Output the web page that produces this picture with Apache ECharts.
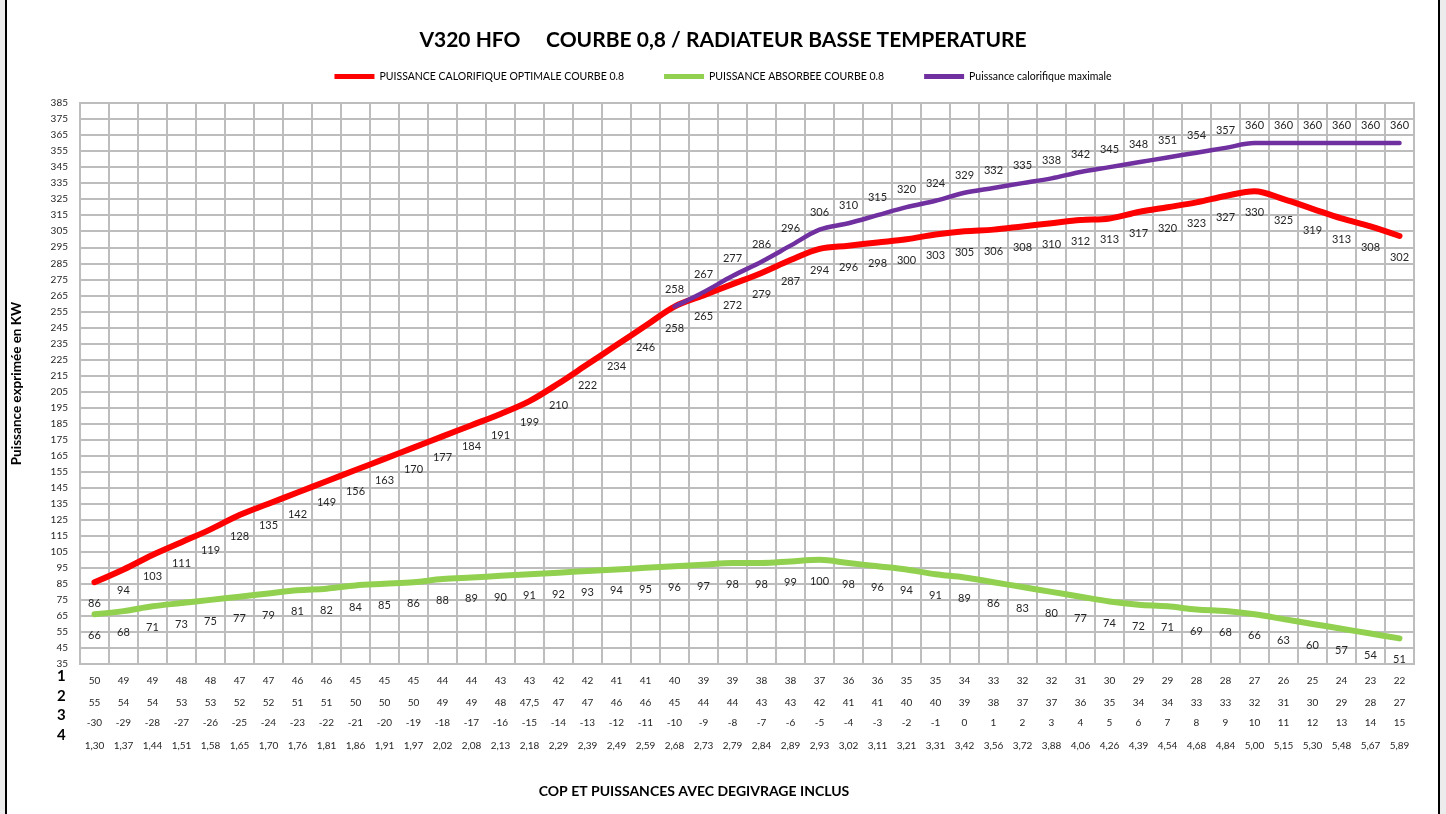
<!DOCTYPE html>
<html><head><meta charset="utf-8">
<script src="https://cdn.jsdelivr.net/npm/echarts@6/dist/echarts.min.js"></script>
<style>html,body{margin:0;padding:0;background:#fff}#c{width:1446px;height:814px}</style>
</head><body><div id="c"></div>
<script>
// ---- data ----
const temps = [-30,-29,-28,-27,-26,-25,-24,-23,-22,-21,-20,-19,-18,-17,-16,-15,-14,-13,-12,-11,-10,-9,-8,-7,-6,-5,-4,-3,-2,-1,0,1,2,3,4,5,6,7,8,9,10,11,12,13,14,15];
const row1 = [50,49,49,48,48,47,47,46,46,45,45,45,44,44,43,43,42,42,41,41,40,39,39,38,38,37,36,36,35,35,34,33,32,32,31,30,29,29,28,28,27,26,25,24,23,22];
const row2 = [55,54,54,53,53,52,52,51,51,50,50,50,49,49,48,47.5,47,47,46,46,45,44,44,43,43,42,41,41,40,40,39,38,37,37,36,35,34,34,33,33,32,31,30,29,28,27];
const cop = [1.30,1.37,1.44,1.51,1.58,1.65,1.70,1.76,1.81,1.86,1.91,1.97,2.02,2.08,2.13,2.18,2.29,2.39,2.49,2.59,2.68,2.73,2.79,2.84,2.89,2.93,3.02,3.11,3.21,3.31,3.42,3.56,3.72,3.88,4.06,4.26,4.39,4.54,4.68,4.84,5.00,5.15,5.30,5.48,5.67,5.89];
const optimal = [86,94,103,111,119,128,135,142,149,156,163,170,177,184,191,199,210,222,234,246,258,265,272,279,287,294,296,298,300,303,305,306,308,310,312,313,317,320,323,327,330,325,319,313,308,302];
const absorbed = [66,68,71,73,75,77,79,81,82,84,85,86,88,89,90,91,92,93,94,95,96,97,98,98,99,100,98,96,94,91,89,86,83,80,77,74,72,71,69,68,66,63,60,57,54,51];
const maximal = [null,null,null,null,null,null,null,null,null,null,null,null,null,null,null,null,null,null,null,null,258,267,277,286,296,306,310,315,320,324,329,332,335,338,342,345,348,351,354,357,360,360,360,360,360,360];
const rowNames = ['1','2','3','4'];
const seriesNames = ['PUISSANCE CALORIFIQUE OPTIMALE COURBE 0.8','PUISSANCE ABSORBEE COURBE 0.8','Puissance calorifique maximale'];

// ---- chart ----
const FONT = 'Lato, "Noto Sans", sans-serif';
const GRID = '#bdbdbd';
const comma = v => String(v).replace('.', ',');
const cats = temps.map(String);

function rowAxis(values, offset, fmt) {
  return {
    type: 'category', data: cats, position: 'bottom', offset: offset, gridIndex: 0,
    axisLine: {show: false}, axisTick: {show: false}, splitLine: {show: false},
    axisLabel: {interval: 0, margin: 12, fontSize: 10, color: '#262626', fontFamily: FONT,
      formatter: (v, i) => fmt(values[i])}
  };
}

const chart = echarts.init(document.getElementById('c'), null, {renderer: 'canvas'});
const labelStyle = {fontSize: 11, color: '#262626', fontFamily: FONT};

function lineSeries(name, data, color, width, pos, dist) {
  return {
    name: name, type: 'line', data: data, xAxisIndex: 0, smooth: 0.35,
    symbol: 'circle', symbolSize: 2, showSymbol: true, showAllSymbol: true,
    lineStyle: {color: color, width: width, cap: 'round'}, itemStyle: {color: color},
    label: Object.assign({show: true, position: pos, distance: dist}, labelStyle),
    labelLayout: {hideOverlap: false}
  };
}

chart.setOption({
  backgroundColor: '#fff',
  animation: false,
  title: [
    {text: 'V320 HFO     COURBE 0,8 / RADIATEUR BASSE TEMPERATURE', left: 'center', top: 22,
     textStyle: {fontSize: 21, fontWeight: 'bold', color: '#000', fontFamily: FONT, lineHeight: 26}},
    {text: 'COP ET PUISSANCES AVEC DEGIVRAGE INCLUS', left: 689, top: 778, textAlign: 'center',
     textStyle: {fontSize: 14, fontWeight: 'bold', color: '#000', fontFamily: FONT, lineHeight: 16}}
  ],
  legend: {
    top: 66, left: 'center', icon: 'rect', itemWidth: 40, itemHeight: 5, itemGap: 40,
    textStyle: {fontSize: 10.5, color: '#000', fontFamily: FONT},
    data: seriesNames
  },
  grid: {left: 80, right: 32, top: 103, bottom: 150, show: true, borderColor: GRID, borderWidth: 2},
  xAxis: [
    {type: 'category', data: cats, boundaryGap: true, position: 'bottom',
     axisLine: {show: true, lineStyle: {color: GRID, width: 2}}, axisTick: {show: false},
     axisLabel: {show: false},
     splitLine: {show: true, interval: 0, lineStyle: {color: GRID, width: 2}}},
    rowAxis(row1, 0, v => String(v)),
    rowAxis(row2, 22, v => comma(v)),
    rowAxis(temps, 42, v => String(v)),
    rowAxis(cop, 65, v => v.toFixed(2).replace('.', ','))
  ],
  yAxis: {
    type: 'value', min: 35, max: 385, interval: 10,
    name: 'Puissance exprimée en KW', nameLocation: 'middle', nameGap: 56,
    nameTextStyle: {fontSize: 13.5, fontWeight: 'bold', color: '#000', fontFamily: FONT},
    axisLine: {show: false}, axisTick: {show: false},
    axisLabel: {fontSize: 10, color: '#262626', margin: 12, fontFamily: FONT},
    splitLine: {show: true, lineStyle: {color: GRID, width: 2}}
  },
  series: [
    lineSeries(seriesNames[0], optimal, '#ff0000', 6, 'bottom', 15),
    lineSeries(seriesNames[1], absorbed, '#92d050', 6, 'bottom', 15),
    lineSeries(seriesNames[2], maximal, '#7030a0', 4.5, 'top', 11)
  ],
  graphic: [
    {type: 'rect', shape: {x: 0, y: 0, width: 5, height: 814}, style: {fill: '#ececec'}, silent: true},
    {type: 'rect', shape: {x: 1440, y: 0, width: 6, height: 814}, style: {fill: '#ececec'}, silent: true},
    {type: 'rect', shape: {x: 6, y: -10, width: 1433, height: 840}, style: {fill: 'none', stroke: '#000', lineWidth: 2}, silent: true},
    ...rowNames.map((t, i) => ({
      type: 'text', left: 57, top: [669, 689, 708, 728][i],
      style: {text: t, fontSize: 15, fontWeight: 'bold', fill: '#000', fontFamily: FONT}
    }))
  ]
});
</script>
</body></html>
